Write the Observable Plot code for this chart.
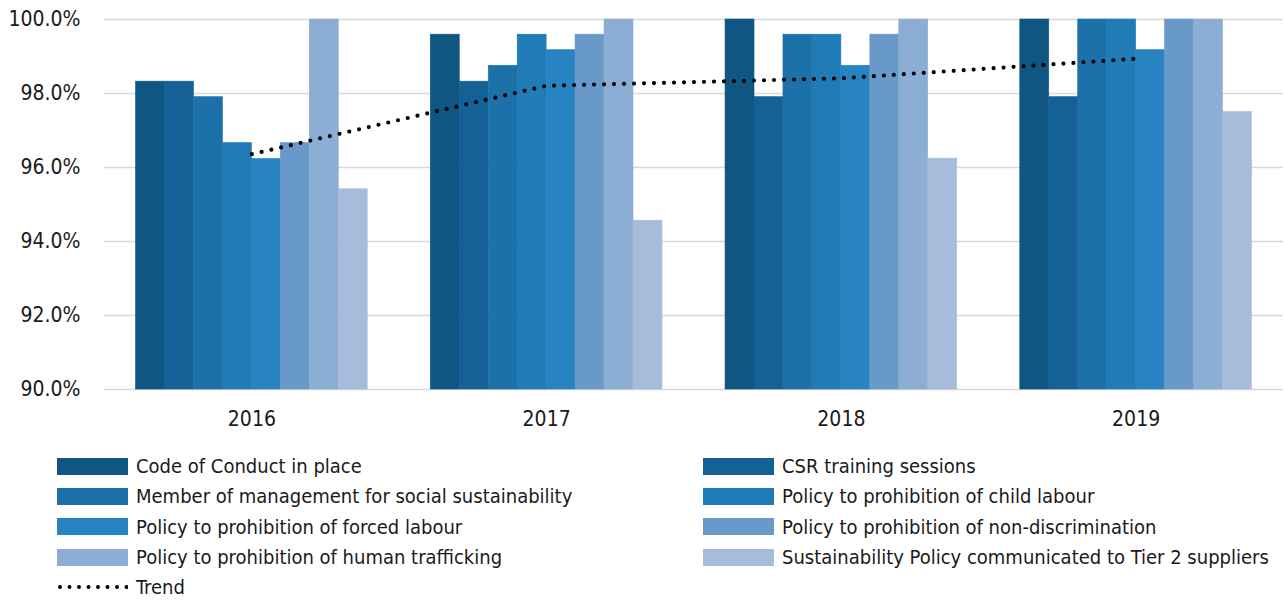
<!DOCTYPE html>
<html>
<head>
<meta charset="utf-8">
<script src="https://cdn.jsdelivr.net/npm/d3@7"></script>
<script src="https://cdn.jsdelivr.net/npm/@observablehq/plot@0.6"></script>
<style>
  body { margin: 0; background: #fff; font-family: "DejaVu Sans Condensed", "Liberation Sans Narrow", sans-serif; }
  #chart svg { display: block; }
  .legend { display: grid; grid-template-columns: 646px 1fr; margin-left: 57px; margin-top: 6px; row-gap: 0; }
  .item { display: flex; align-items: center; height: 30.3px; font-size: 20px; color: #1a1a1a; white-space: nowrap; }
  .sw { width: 71px; height: 17px; margin-right: 8px; flex: none; }
  .trend { width: 71px; margin-right: 8px; flex: none; }
</style>
</head>
<body>
<div id="chart"></div>
<div class="legend" id="legend"></div>
<script>
const years = ["2016", "2017", "2018", "2019"];
const seriesNames = [
  "Code of Conduct in place",
  "CSR training sessions",
  "Member of management for social sustainability",
  "Policy to prohibition of child labour",
  "Policy to prohibition of forced labour",
  "Policy to prohibition of non-discrimination",
  "Policy to prohibition of human trafficking",
  "Sustainability Policy communicated to Tier 2 suppliers"
];
const codeOfConduct      = [98.32, 99.59, 100.0, 100.0];
const csrTraining        = [98.32, 98.32, 97.90, 97.90];
const memberManagement   = [97.90, 98.75, 99.59, 100.0];
const childLabour        = [96.66, 99.59, 99.59, 100.0];
const forcedLabour       = [96.23, 99.17, 98.75, 99.17];
const nonDiscrimination  = [96.66, 99.59, 99.59, 100.0];
const humanTrafficking   = [100.0, 100.0, 100.0, 100.0];
const tier2Suppliers     = [95.41, 94.56, 96.24, 97.50];
const trend              = [96.36, 98.21, 98.41, 98.94];
const colors = ["#0f5683", "#136196", "#1d71a9", "#207bb7", "#2783c2", "#6899c9", "#8caed4", "#a7bcdb"];
const yTicks = [90, 92, 94, 96, 98, 100];

const seriesValues = [codeOfConduct, csrTraining, memberManagement, childLabour, forcedLabour, nonDiscrimination, humanTrafficking, tier2Suppliers];

// grouped layout in data units: each year spans [i, i+1]
const groupPad = 0.107;
const barW = (1 - 2 * groupPad) / seriesNames.length;
const bars = [];
seriesNames.forEach((name, s) => {
  years.forEach((yr, i) => {
    bars.push({ series: name, year: yr, value: seriesValues[s][i], x1: i + groupPad + s * barW, x2: i + groupPad + (s + 1) * barW });
  });
});
const trendRows = years.map((yr, i) => ({ year: yr, x: i + 0.5, value: trend[i] }));

const chart = Plot.plot({
  width: 1284,
  height: 445,
  marginLeft: 104,
  marginRight: 1,
  marginTop: 19,
  marginBottom: 56,
  style: { fontFamily: "\"DejaVu Sans Condensed\", sans-serif", fontSize: "21px", color: "#1a1a1a" },
  x: { domain: [0, years.length], axis: null },
  y: { domain: [90, 100], axis: null },
  color: { domain: seriesNames, range: colors },
  marks: [
    Plot.ruleY(yTicks, { stroke: "#d9d9d9", strokeWidth: 1.6 }),
    Plot.rectY(bars, { x1: "x1", x2: "x2", y1: 90, y2: "value", fill: "series", stroke: "series", strokeWidth: 0.6 }),
    Plot.line(trendRows, { x: "x", y: "value", stroke: "#000", strokeWidth: 4.2, strokeDasharray: "0 10", strokeLinecap: "round" }),
    Plot.axisY(yTicks, { label: null, tickSize: 0, tickPadding: 24, tickFormat: d => d.toFixed(1) + "%", fontSize: 21 }),
    Plot.axisX(years.map((y, i) => i + 0.5), { label: null, tickSize: 0, tickPadding: 22, tickFormat: d => years[Math.floor(d)], fontSize: 21 })
  ]
});
document.getElementById("chart").appendChild(chart);

// legend (two columns, row-major)
const legend = document.getElementById("legend");
seriesNames.forEach((name, i) => {
  const item = document.createElement("div");
  item.className = "item";
  const sw = document.createElement("span");
  sw.className = "sw";
  sw.style.background = colors[i];
  item.appendChild(sw);
  item.appendChild(document.createTextNode(name));
  legend.appendChild(item);
});
const t = document.createElement("div");
t.className = "item";
t.innerHTML = '<svg class="trend" width="71" height="8"><line x1="3" y1="4" x2="70" y2="4" stroke="#000" stroke-width="4" stroke-dasharray="0 9.5" stroke-linecap="round"/></svg>Trend';
legend.appendChild(t);
</script>
</body>
</html>
